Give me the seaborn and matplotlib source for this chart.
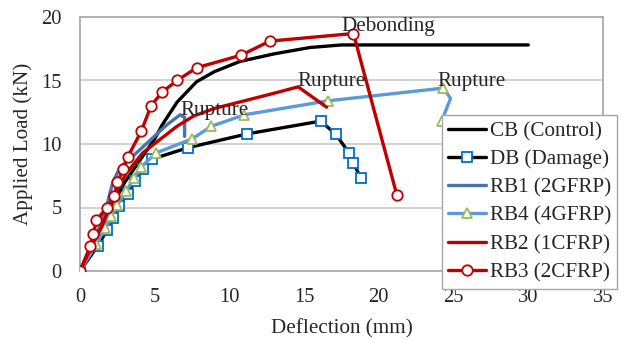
import numpy as np
import pandas as pd
import matplotlib
matplotlib.use("Agg")
import matplotlib.pyplot as plt
import seaborn as sns

sns.set_style("white")
plt.rcParams['font.family'] = ['Liberation Serif', 'DejaVu Serif']

# ---- data ----
cb_x = [0, 1, 2, 3, 4, 5, 5.5, 6.5, 7.8, 9, 10.7, 13, 15.4, 17.5, 30]
cb_y = [0, 2.3, 4.8, 7.0, 8.7, 10.4, 11.5, 13.3, 14.9, 15.7, 16.5, 17.1, 17.6, 17.8, 17.8]

db_x = [0, 1.2, 1.8, 2.2, 2.6, 3.2, 3.7, 4.2, 4.8, 7.2, 11.2, 16.1, 17.1, 18.0, 18.3, 18.8]
db_y = [0, 2.0, 3.2, 4.2, 5.1, 6.1, 7.1, 8.0, 8.8, 9.7, 10.8, 11.8, 10.8, 9.3, 8.5, 7.3]

rb1_x = [0, 1, 1.8, 2.2, 2.7, 3.5, 4.7, 5.8, 6.7, 7.0, 7.0]
rb1_y = [0, 2.4, 5.2, 7.0, 8.2, 9.0, 10.3, 11.5, 12.3, 12.1, 10.6]

rb4_x = [0, 1.1, 1.7, 2.1, 2.5, 3.1, 3.6, 4.1, 5.1, 7.5, 8.8, 11.0, 16.6, 24.3, 24.8, 24.2]
rb4_y = [0, 2.1, 3.4, 4.3, 5.2, 6.3, 7.3, 8.2, 9.3, 10.4, 11.4, 12.3, 13.4, 14.4, 13.6, 11.8]

rb2_x = [0, 0.8, 1.5, 2.3, 3.1, 4.2, 5.4, 6.5, 7.6, 9, 11, 13, 14.6, 16.5]
rb2_y = [0, 2.0, 3.6, 6.0, 7.7, 9.3, 10.4, 11.4, 12.2, 12.8, 13.4, 14.0, 14.5, 12.9]

rb3_x = [0, 0.7, 0.9, 1.1, 1.8, 2.3, 2.5, 2.9, 3.2, 4.1, 4.75, 5.5, 6.5, 7.8, 10.8, 12.7, 18.3, 21.2]
rb3_y = [0, 2.0, 2.9, 4.0, 5.0, 5.9, 7.0, 8.0, 9.0, 11.0, 13.0, 14.1, 15.0, 16.0, 17.0, 18.1, 18.7, 6.0]

labels = ["CB (Control)", "DB (Damage)", "RB1 (2GFRP)", "RB4 (4GFRP)", "RB2 (1CFRP)", "RB3 (2CFRP)"]
notes = ["Debonding", "Rupture", "Rupture", "Rupture"]
note_x = [20.65, 9.0, 16.8, 26.2]
note_y = [18.9, 12.3, 14.55, 14.55]

x_ticks = [0, 5, 10, 15, 20, 25, 30, 35]
y_ticks = [0, 5, 10, 15, 20]

FS = 15.2

# ---- figure ----
fig = plt.figure(figsize=(6.22, 3.42), dpi=100)
ax = fig.add_axes([80/622, 1-271/342, 523/622, (271-17)/342])

lw = 2.4
ms = 6.5
common = dict(sort=False, estimator=None, ax=ax, linewidth=lw)

sns.lineplot(x=cb_x, y=cb_y, color='black', label=labels[0], zorder=3, **common)
sns.lineplot(x=db_x, y=db_y, color='black', marker='s', markersize=ms,
             markerfacecolor='white', markeredgecolor='#0070C0', markeredgewidth=1.3,
             label=labels[1], zorder=4, **common)
sns.lineplot(x=rb1_x, y=rb1_y, color='#4A72B0', label=labels[2], zorder=5, **common)
sns.lineplot(x=rb4_x, y=rb4_y, color='#5B9BD5', marker='^', markersize=ms + 1,
             markerfacecolor='white', markeredgecolor='#9BBB59', markeredgewidth=1.3,
             markevery=[i for i in range(len(rb4_x)) if i != 14],
             label=labels[3], zorder=6, **common)
sns.lineplot(x=rb2_x, y=rb2_y, color='#C00000', label=labels[4], zorder=7, **common)
sns.lineplot(x=rb3_x, y=rb3_y, color='#C00000', marker='o', markersize=ms + 1,
             markerfacecolor='white', markeredgecolor='#C00000', markeredgewidth=1.3,
             label=labels[5], zorder=8, **common)

for t, x, y in zip(notes, note_x, note_y):
    ax.text(x, y, t, ha='center', va='baseline', fontsize=FS, zorder=9)

ax.set_xlim(0, 35)
ax.set_ylim(0, 20)
ax.set_xticks(x_ticks)
ax.set_yticks(y_ticks)
ax.tick_params(axis='both', length=0, labelsize=14.8)
ax.tick_params(axis='y', pad=13)
ax.tick_params(axis='x', pad=12)
ax.yaxis.grid(True, color='#C8C8C8', linewidth=1.2)
ax.xaxis.grid(False)
for s in ax.spines.values():
    s.set_color('#A6A6A6')
    s.set_linewidth(1.2)
ax.set_xlabel("Deflection (mm)", fontsize=FS, labelpad=9)
ax.set_ylabel("Applied Load (kN)", fontsize=FS, labelpad=6)

handles, lbls = ax.get_legend_handles_labels()
ax.legend_.remove()
leg = fig.legend(handles, lbls, loc='upper left', bbox_to_anchor=(442/622, 1-115/342),
                 borderaxespad=0, fontsize=FS, frameon=True, fancybox=False,
                 edgecolor='#A6A6A6', framealpha=1, handlelength=1.8,
                 labelspacing=0.4, handletextpad=0.15, borderpad=0.3)
leg.get_frame().set_linewidth(1.0)

fig.savefig("out.png", dpi=100)
